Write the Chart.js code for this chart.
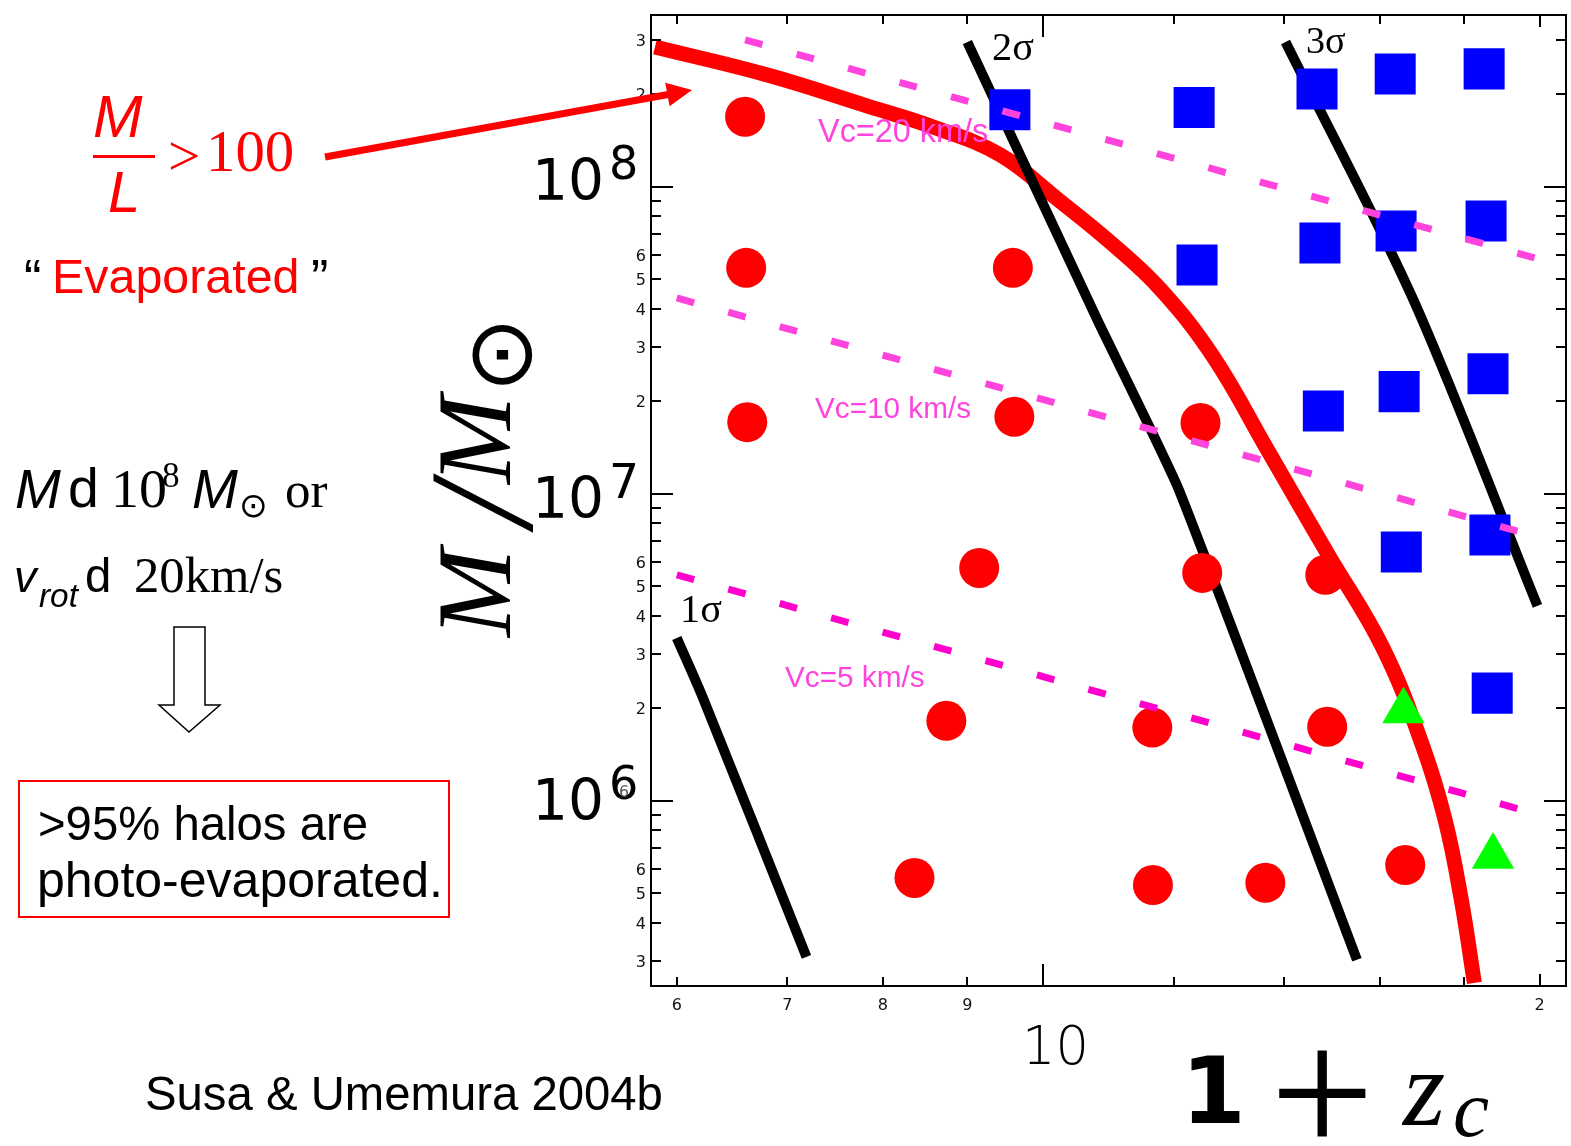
<!DOCTYPE html>
<html>
<head>
<meta charset="utf-8">
<title>Photo-evaporated halos (Susa & Umemura 2004b)</title>
<script src="https://cdn.jsdelivr.net/npm/chart.js@4.4.1/dist/chart.umd.min.js"></script>
<style>
  html, body { margin: 0; padding: 0; background: #ffffff; }
  canvas { display: block; }
</style>
</head>
<body>
<canvas id="haloChart" width="1571" height="1146"></canvas>
<script>
// ============================================================
// M / M_sun versus 1 + z_c  (log-log)
// ============================================================

// evaporated halos (red circles)
const evapZ = [6.60, 6.61, 9.59, 6.62, 9.61, 9.15, 12.46, 12.49, 14.83, 8.74, 8.36, 11.65, 14.87, 11.66, 13.64, 16.58];
const evapM = [1.69e8, 5.44e7, 5.44e7, 1.71e7, 1.78e7, 5.73e6, 1.70e7, 5.52e6, 5.44e6, 1.82e6, 5.60e5, 1.73e6, 1.74e6, 5.31e5, 5.40e5, 6.17e5];

// surviving halos (blue squares)
const survZ = [9.55, 12.35, 14.66, 16.35, 18.51, 12.40, 14.72, 16.37, 18.56, 14.79, 16.44, 18.61, 16.49, 18.66, 18.72];
const survM = [1.78e8, 1.81e8, 2.08e8, 2.33e8, 2.42e8, 5.56e7, 6.56e7, 7.17e7, 7.73e7, 1.86e7, 2.15e7, 2.46e7, 6.46e6, 7.34e6, 2.24e6];

// marginal halos (green triangles)
const margZ = [16.54, 18.74];
const margM = [1.96e6, 6.58e5];

// M/L = 100 boundary (thick red curve)
const mlZ = [5.82, 6.81, 7.83, 8.58, 9.42, 10.24, 10.98, 11.78, 12.68, 13.68, 14.87, 16.06, 16.98, 17.53, 17.93, 18.26];
const mlM = [2.85e8, 2.31e8, 1.83e8, 1.565e8, 1.27e8, 8.98e7, 6.61e7, 4.64e7, 2.80e7, 1.39e7, 6.41e6, 3.17e6, 1.52e6, 8.65e5, 4.75e5, 2.55e5];

// 1, 2, 3 sigma peaks (black)
const sig1Z = [6.00, 6.23, 7.19];
const sig1M = [3.39e6, 2.13e6, 3.10e5];
const sig2Z = [9.00, 10.79, 12.08, 15.50];
const sig2M = [2.96e8, 3.68e7, 1.04e7, 3.03e5];
const sig3Z = [14.03, 16.77, 19.94];
const sig3M = [2.96e8, 4.28e7, 4.31e6];

// constant circular velocity (dashed magenta)
const vc20Z = [6.60, 20.01];
const vc20M = [3.01e8, 5.80e7];
const vc10Z = [6.00, 19.52];
const vc10M = [4.34e7, 7.48e6];
const vc5Z = [6.00, 19.52];
const vc5M = [5.44e6, 9.33e5];

// axes
const zRange = [5.788, 20.75];
const mRange = [2.49e5, 3.625e8];
const zTicks = [6, 7, 8, 9, 10, 12, 14, 16, 18, 20];
const zTickLabels = ['6', '7', '8', '9', '', '', '', '', '', '2'];
const mTicks = [3e5, 4e5, 5e5, 6e5, 7e5, 8e5, 9e5,
  1e6, 2e6, 3e6, 4e6, 5e6, 6e6, 7e6, 8e6, 9e6,
  1e7, 2e7, 3e7, 4e7, 5e7, 6e7, 7e7, 8e7, 9e7,
  1e8, 2e8, 3e8];
const mTickLabels = ['3', '4', '5', '6', '', '', '',
  '', '2', '3', '4', '5', '6', '', '', '',
  '', '2', '3', '4', '5', '6', '', '', '',
  '', '2', '3'];
const mDecades = [1e6, 1e7, 1e8];
const mDecadeExp = ['6', '7', '8'];

const SANS = '"Liberation Sans", Arial, sans-serif';
const SERIF = '"Liberation Serif", "Times New Roman", serif';
const DJV = '"DejaVu Sans", sans-serif';

const zip = (xs, ys) => xs.map((x, i) => ({ x, y: ys[i] }));

// draws text so that its ink box starts at `left` and ends at `bottom`, scaled to `height`
function inkText(ctx, text, font, left, bottom, height, color) {
  ctx.textAlign = 'left';
  ctx.textBaseline = 'alphabetic';
  ctx.font = font.replace('{s}', '100');
  let m = ctx.measureText(text);
  const s = 100 * height / (m.actualBoundingBoxAscent + m.actualBoundingBoxDescent);
  ctx.font = font.replace('{s}', s.toFixed(2));
  m = ctx.measureText(text);
  ctx.fillStyle = color;
  ctx.fillText(text, left + m.actualBoundingBoxLeft, bottom - m.actualBoundingBoxDescent);
}

// ===== FRAME, INWARD TICKS, LABELS, ANNOTATIONS =====
const frameAndText = {
  id: 'frameAndText',
  afterDraw(chart) {
    const ctx = chart.ctx;
    const xs = chart.scales.x, ys = chart.scales.y;
    const { left, right, top, bottom } = chart.chartArea;
    ctx.save();

    // plot labels drawn over the curves
    inkText(ctx, 'Vc=20 km/s', `{s}px ${SANS}`, 818, 142, 24, '#ff44dd');
    inkText(ctx, 'Vc=10 km/s', `{s}px ${SANS}`, 815, 418, 22, '#ff44dd');
    inkText(ctx, 'Vc=5 km/s', `{s}px ${SANS}`, 785, 687, 22, '#ff44dd');
    inkText(ctx, '2σ', `{s}px ${SERIF}`, 993, 60, 27, '#000');
    inkText(ctx, '3σ', `{s}px ${SERIF}`, 1307, 53, 26, '#000');
    inkText(ctx, '1σ', `{s}px ${SERIF}`, 683, 622, 27, '#000');

    // frame
    ctx.strokeStyle = '#000';
    ctx.lineWidth = 2;
    ctx.strokeRect(left, top, right - left, bottom - top);

    ctx.beginPath();
    zTicks.forEach(v => {
      const px = Math.round(xs.getPixelForValue(v));
      const len = v === 10 ? 22 : (v === 20 ? 12 : 9);
      ctx.moveTo(px, bottom); ctx.lineTo(px, bottom - len);
      ctx.moveTo(px, top); ctx.lineTo(px, top + len);
    });
    mTicks.forEach(v => {
      const py = Math.round(ys.getPixelForValue(v));
      const len = mDecades.includes(v) ? 22 : 10;
      ctx.moveTo(left, py); ctx.lineTo(left + len, py);
      ctx.moveTo(right, py); ctx.lineTo(right - len, py);
    });
    ctx.stroke();

    // small tick labels
    ctx.font = `16px ${DJV}`;
    ctx.fillStyle = '#111';
    ctx.textBaseline = 'alphabetic';
    ctx.textAlign = 'center';
    zTicks.forEach((v, i) => {
      if (zTickLabels[i]) ctx.fillText(zTickLabels[i], xs.getPixelForValue(v), bottom + 24);
    });
    ctx.textAlign = 'right';
    mTicks.forEach((v, i) => {
      if (mTickLabels[i]) ctx.fillText(mTickLabels[i], left - 5, ys.getPixelForValue(v) + 6);
    });

    // decade labels 10^n
    const drop = [19, 24, 13];
    mDecades.forEach((v, i) => {
      const base = ys.getPixelForValue(v) + drop[i];
      inkText(ctx, '10', `{s}px ${DJV}`, 538, base, 43, '#000');
      inkText(ctx, mDecadeExp[i], `{s}px ${DJV}`, 612, base - 20, 35, '#000');
    });
    inkText(ctx, '6', `{s}px ${DJV}`, 620, 797, 12, '#555');
    inkText(ctx, '10', `200 {s}px ${DJV}`, 1027, 1065, 40, '#000');

    // axis titles
    inkText(ctx, '1', `bold {s}px ${DJV}`, 1191, 1123, 68, '#000');
    inkText(ctx, '+', `{s}px ${SERIF}`, 1279, 1137, 87, '#000');
    inkText(ctx, 'z', `italic {s}px ${SERIF}`, 1401, 1125, 50, '#000');
    inkText(ctx, 'c', `italic {s}px ${SERIF}`, 1455, 1137, 39, '#000');

    ctx.save();
    ctx.rotate(-Math.PI / 2);
    inkText(ctx, 'M', `italic {s}px ${SERIF}`, -639, 510, 70, '#000');
    inkText(ctx, '/', `italic {s}px ${SERIF}`, -533, 533, 100, '#000');
    inkText(ctx, 'M', `italic {s}px ${SERIF}`, -486, 510, 70, '#000');
    inkText(ctx, '⊙', `{s}px ${DJV}`, -385, 533, 61, '#000');
    ctx.restore();

    // left-hand annotations
    const red = '#ff0000';
    inkText(ctx, 'M', `italic {s}px ${SANS}`, 94, 137, 41, red);
    ctx.fillStyle = red;
    ctx.fillRect(93, 155, 62, 3);
    inkText(ctx, 'L', `italic {s}px ${SANS}`, 109, 212, 40, red);
    inkText(ctx, '>', `{s}px ${SERIF}`, 170, 170, 28, red);
    inkText(ctx, '100', `{s}px ${SERIF}`, 211, 172, 40, red);

    // arrow to the M/L curve
    ctx.strokeStyle = red;
    ctx.lineWidth = 7;
    ctx.beginPath();
    ctx.moveTo(325, 157); ctx.lineTo(668, 94.5);
    ctx.stroke();
    ctx.beginPath();
    ctx.moveTo(692, 90); ctx.lineTo(669.6, 106.3); ctx.lineTo(665.2, 82.7);
    ctx.closePath();
    ctx.fill();

    inkText(ctx, '“', `{s}px ${SANS}`, 25, 272, 12, '#000');
    inkText(ctx, 'Evaporated', `{s}px ${SANS}`, 55, 303, 45.5, red);
    inkText(ctx, '”', `{s}px ${SANS}`, 312, 272, 12, '#000');

    inkText(ctx, 'M', `italic {s}px ${SANS}`, 16, 508, 38, '#000');
    inkText(ctx, 'd', `{s}px ${SANS}`, 70, 508, 41, '#000');
    inkText(ctx, '10', `{s}px ${SERIF}`, 115, 508, 38, '#000');
    inkText(ctx, '8', `{s}px ${SERIF}`, 163, 487, 24, '#000');
    inkText(ctx, 'M', `italic {s}px ${SANS}`, 193, 508, 38, '#000');
    inkText(ctx, '⊙', `{s}px ${DJV}`, 242, 518, 23, '#000');
    inkText(ctx, 'or', `{s}px ${SERIF}`, 286, 508, 25, '#000');

    inkText(ctx, 'v', `italic {s}px ${SANS}`, 16, 592, 24, '#000');
    inkText(ctx, 'rot', `italic {s}px ${SANS}`, 39, 607, 22, '#000');
    inkText(ctx, 'd', `{s}px ${SANS}`, 86, 592, 35, '#000');
    inkText(ctx, '20km/s', `{s}px ${SERIF}`, 136, 593, 36, '#000');

    // hollow down arrow
    ctx.fillStyle = '#fff';
    ctx.strokeStyle = '#000';
    ctx.lineWidth = 1.5;
    ctx.beginPath();
    ctx.moveTo(174, 627); ctx.lineTo(205, 627); ctx.lineTo(205, 705); ctx.lineTo(220, 705);
    ctx.lineTo(189, 732); ctx.lineTo(159, 705); ctx.lineTo(174, 705);
    ctx.closePath();
    ctx.fill(); ctx.stroke();

    // boxed statement
    ctx.strokeStyle = red;
    ctx.lineWidth = 2;
    ctx.strokeRect(19, 781, 430, 136);
    inkText(ctx, '>95% halos are', `{s}px ${SANS}`, 40, 840, 35, '#000');
    inkText(ctx, 'photo-evaporated.', `{s}px ${SANS}`, 40, 907, 47, '#000');

    inkText(ctx, 'Susa & Umemura 2004b', `{s}px ${SANS}`, 147, 1110, 35, '#000');

    ctx.restore();
  }
};

const lineSet = (data, color, width, extra) => Object.assign({
  type: 'scatter',
  data,
  showLine: true,
  borderColor: color,
  backgroundColor: color,
  borderWidth: width,
  pointRadius: 0,
  borderCapStyle: 'butt',
  fill: false
}, extra);

new Chart(document.getElementById('haloChart'), {
  type: 'scatter',
  data: {
    datasets: [
      lineSet(zip(mlZ, mlM), '#ff0000', 15, { tension: 0.4, order: 9 }),
      lineSet(zip(sig1Z, sig1M), '#000000', 10, { tension: 0.3, order: 8 }),
      lineSet(zip(sig2Z, sig2M), '#000000', 10, { tension: 0.15, order: 8 }),
      lineSet(zip(sig3Z, sig3M), '#000000', 10, { tension: 0.3, order: 8 }),
      { data: zip(evapZ, evapM), pointStyle: 'circle', pointRadius: 20, backgroundColor: '#ff0000', borderWidth: 0, order: 6 },
      { data: zip(survZ, survM), pointStyle: 'rect', pointRadius: 29, backgroundColor: '#0000ff', borderWidth: 0, order: 5 },
      { data: zip(margZ, margM), pointStyle: 'triangle', pointRadius: 24.5, backgroundColor: '#00ff00', borderWidth: 0, order: 4 },
      lineSet(zip(vc20Z, vc20M), '#ff44dd', 7, { borderDash: [18, 35.4], order: 2 }),
      lineSet(zip(vc10Z, vc10M), '#ff44dd', 7, { borderDash: [18, 35.4], order: 2 }),
      lineSet(zip(vc5Z, vc5M), '#ff00cc', 7, { borderDash: [18, 35.4], order: 2 })
    ]
  },
  options: {
    responsive: false,
    devicePixelRatio: 1,
    animation: false,
    events: [],
    layout: { autoPadding: false, padding: { left: 651, right: 5, top: 15, bottom: 160 } },
    plugins: { legend: { display: false }, tooltip: { enabled: false } },
    scales: {
      x: { type: 'logarithmic', min: zRange[0], max: zRange[1], display: false },
      y: { type: 'logarithmic', min: mRange[0], max: mRange[1], display: false }
    }
  },
  plugins: [frameAndText]
});
</script>
</body>
</html>
